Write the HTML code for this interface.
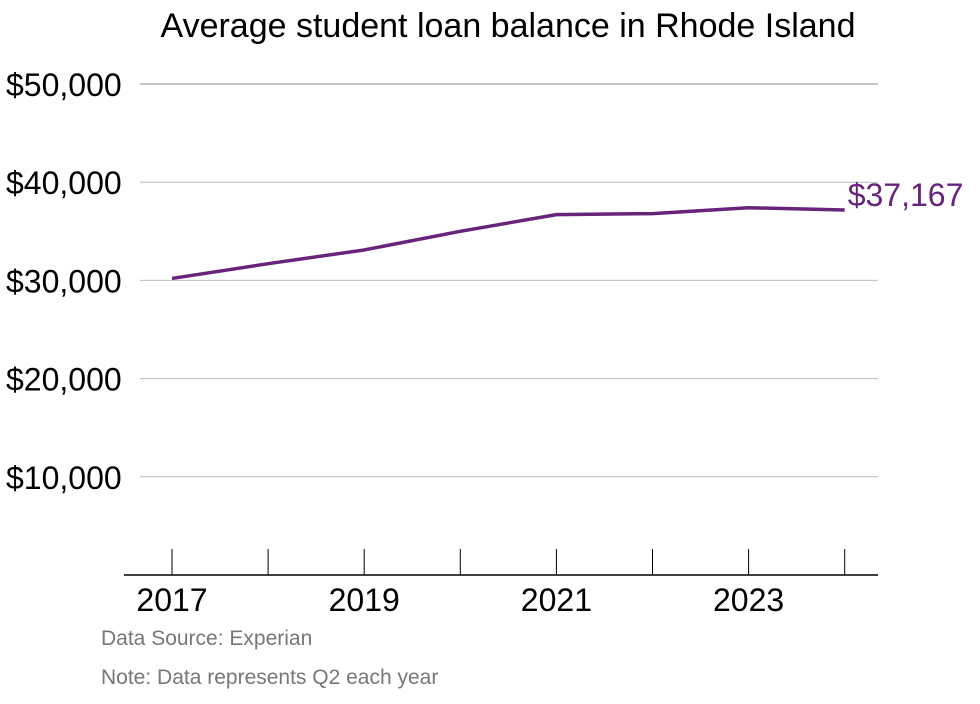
<!DOCTYPE html>
<html><head><meta charset="utf-8"><style>
body{margin:0;background:#fff;font-family:"Liberation Sans",Roboto,sans-serif;}
svg text{font-family:"Liberation Sans",sans-serif;}
</style></head><body>
<svg id="chart" width="980" height="699" xmlns="http://www.w3.org/2000/svg">
<text x="508" y="37" text-anchor="middle" font-size="34" fill="#000">Average student loan balance in Rhode Island</text>
<g id="grid"></g><g id="xaxis"></g><g id="series"></g>
<text x="101" y="645" font-size="21" fill="#777">Data Source: Experian</text>
<text x="101" y="684" font-size="21" fill="#777">Note: Data represents Q2 each year</text>
</svg>
<script>
const years=[2017,2018,2019,2020,2021,2022,2023,2024];
const balances=[30200,31700,33100,35000,36700,36800,37400,37167];
const yTicks=[10000,20000,30000,40000,50000];
const xTickLabels=[2017,2019,2021,2023];
const NS="http://www.w3.org/2000/svg";
const x=v=>172+(v-2017)*96.1;
const y=v=>575-v*0.00982;
function mk(tag,attrs,parent){const e=document.createElementNS(NS,tag);for(const k in attrs)e.setAttribute(k,attrs[k]);parent.appendChild(e);return e;}
const grid=document.getElementById('grid'),xa=document.getElementById('xaxis'),se=document.getElementById('series');
yTicks.forEach(t=>{
 const l=mk('line',{x1:140,x2:878,y1:y(t),y2:y(t),stroke:t===50000?'#888':'#bbb','stroke-width':1},grid);
 
 
 const tx=mk('text',{x:6,y:y(t)+12,'font-size':32,fill:'#000'},grid);
 tx.textContent='$'+t.toLocaleString('en-US');
 
 
});
const base=mk('line',{x1:124,x2:878,y1:575,y2:575,stroke:'#000','stroke-width':1.5},xa);


years.forEach(yr=>{
 const t=mk('line',{x1:x(yr),x2:x(yr),y1:549,y2:575,stroke:'#000','stroke-width':1},xa);
 
 
});
xTickLabels.forEach(yr=>{
 const t=mk('text',{x:x(yr),y:611,'font-size':32,'text-anchor':'middle',fill:'#000'},xa);
 t.textContent=yr;
 
 
});
const p=mk('polyline',{points:years.map((yr,i)=>x(yr)+','+y(balances[i])).join(' '),fill:'none',stroke:'#68247a','stroke-width':3.5,'stroke-linejoin':'round'},se);


const last=balances[balances.length-1];
const lab=mk('text',{x:x(years[years.length-1])+3,y:y(last)-4,'font-size':32,fill:'#68247a'},se);
lab.textContent='$'+last.toLocaleString('en-US');


</script>
</body></html>
